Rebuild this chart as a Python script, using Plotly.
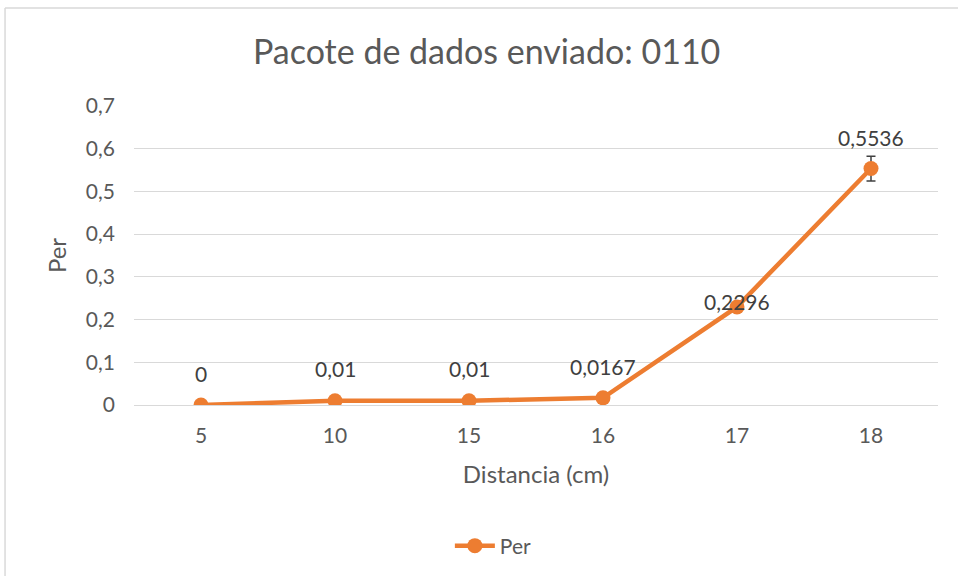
import plotly.graph_objects as go

# Packet error rate versus distance
distancias = ["5", "10", "15", "16", "17", "18"]
per = [0, 0.01, 0.01, 0.0167, 0.2296, 0.5536]
erro = [0, 0, 0, 0, 0, 0.029]
rotulos_yshift = [32, 32, 32, 31, 5, 31]
y_ticks = [0, 0.1, 0.2, 0.3, 0.4, 0.5, 0.6, 0.7]
y_tick_text = ["0", "0,1", "0,2", "0,3", "0,4", "0,5", "0,6", "0,7"]

LARANJA = "#ED7D31"
CINZA_TXT = "#595959"
GRADE = "#D9D9D9"
FONTE = "Lato, 'Open Sans', sans-serif"


def fmt(v):
    return ("%g" % v).replace(".", ",")


fig = go.Figure()
fig.add_trace(go.Scatter(
    x=distancias, y=per, name="Per", mode="lines+markers",
    line=dict(color=LARANJA, width=4.5),
    marker=dict(color=LARANJA, size=15),
    error_y=dict(type="data", array=erro, visible=True,
                 color="#404040", thickness=1.5, width=4.5),
))

# value labels, positioned by category index
for i, (v, dy) in enumerate(zip(per, rotulos_yshift)):
    fig.add_annotation(x=i, y=v, text=fmt(v), showarrow=False,
                       yanchor="middle", yshift=dy,
                       font=dict(size=21, color="#404040", family=FONTE))

# chart frame (left and top edges)
fig.add_shape(type="line", xref="paper", yref="paper",
              x0=-0.1604, x1=1.05, y0=1.3278, y1=1.3278,
              line=dict(color="#D9D9D9", width=1.5))
fig.add_shape(type="line", xref="paper", yref="paper",
              x0=-0.1604, x1=-0.1604, y0=1.3278, y1=-0.6,
              line=dict(color="#D9D9D9", width=1.5))

fig.update_layout(
    width=958, height=576,
    margin=dict(l=134, r=20, t=106, b=171),
    paper_bgcolor="white", plot_bgcolor="white",
    font=dict(family=FONTE, color=CINZA_TXT, size=20),
    title=dict(text="Pacote de dados enviado: 0110", x=0.508, xref="container",
               y=1 - 52 / 576, yref="container", yanchor="middle",
               font=dict(size=34, color=CINZA_TXT, family=FONTE)),
    showlegend=True,
    legend=dict(orientation="h", xref="container", yref="container",
                x=0.515, xanchor="center", y=1 - 546 / 576, yanchor="middle",
                font=dict(size=21, color=CINZA_TXT, family=FONTE),
                itemwidth=40),
    xaxis=dict(type="category", range=[-0.5, 5.5], showgrid=False, showline=True,
               linecolor=GRADE, linewidth=1.2, ticks="",
               ticklabelstandoff=12,
               tickfont=dict(size=21, color=CINZA_TXT),
               title=dict(text="Distancia (cm)", standoff=19,
                          font=dict(size=24, color=CINZA_TXT))),
    yaxis=dict(range=[0, 0.7], tickvals=y_ticks, ticktext=y_tick_text,
               showgrid=True, gridcolor=GRADE, gridwidth=1.2,
               zeroline=False, showline=False, ticks="",
               ticklabelstandoff=18,
               tickfont=dict(size=21, color=CINZA_TXT),
               title=dict(text="Per", standoff=12,
                          font=dict(size=24, color=CINZA_TXT))),
)

fig.write_html("out.html")
